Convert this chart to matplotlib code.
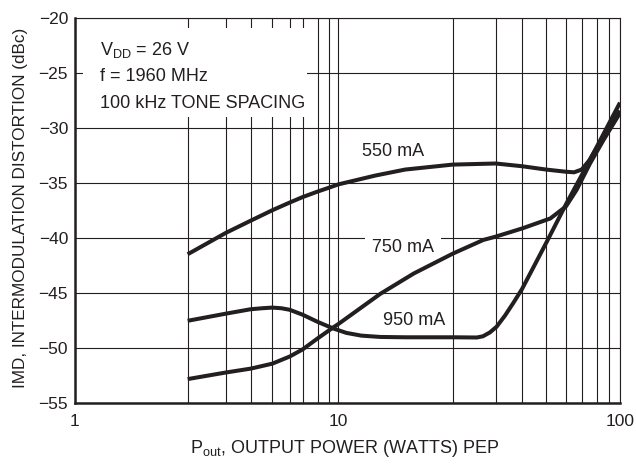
import numpy as np
import matplotlib
matplotlib.use("Agg")
import matplotlib.pyplot as plt
from matplotlib.patches import Rectangle

plt.rcParams['font.family'] = ['Liberation Sans', 'DejaVu Sans']
plt.rcParams['mathtext.default'] = 'regular'

# IMD vs output power, three quiescent currents
p_550 = [2, 3, 4, 5, 6, 7, 8, 9, 10, 12.5, 15, 20, 30, 40, 50, 60, 65, 70, 75, 80, 90, 100]
imd_550 = [-41.45, -39.5, -38.4, -37.45, -36.75, -36.25, -35.75, -35.4, -35.1, -34.3, -33.75,
           -33.3, -33.2, -33.45, -33.75, -33.95, -34.0, -33.75, -32.9, -31.8, -29.85, -28.4]

p_750 = [2, 3, 4, 5, 6, 7, 8, 9.45, 10, 12.9, 15.8, 20, 26.7, 30, 40, 52, 60, 66.6, 75.4,
         85.1, 96.8, 100]
imd_750 = [-52.8, -52.2, -51.85, -51.4, -50.75, -50.1, -49.1, -48.1, -47.8, -45.05, -43.2,
           -41.4, -40.15, -39.85, -39.1, -38.2, -37.1, -35.6, -33.2, -31.1, -29.1, -28.6]

p_950 = [2, 3, 4, 4.5, 5, 5.5, 6, 7, 8, 9.45, 10.5, 11.5, 12.9, 15, 20, 25.1, 26.6, 28.4,
         30.3, 33.2, 36.3, 39.9, 44.4, 50.3, 60.1, 71, 80, 90.6, 100]
imd_950 = [-47.5, -46.85, -46.45, -46.36, -46.3, -46.36, -46.5, -46.95, -47.6, -48.2, -48.6,
           -48.85, -48.97, -49.0, -49.0, -49.02, -48.91, -48.56, -48.04, -47.02, -45.88,
           -44.61, -42.65, -40.34, -36.88, -34.0, -31.7, -29.4, -27.67]

curve_labels = ['550 mA', '750 mA', '950 mA']
x_major = [1, 10, 100]
x_minor = [2, 3, 4, 5, 6, 7, 8, 9, 20, 30, 40, 50, 60, 70, 80, 90]

# the printed log paper is not a true log grid; calibrate the scale to it
grid_vals = np.array([1, 2, 3, 4, 5, 6, 7, 8, 9, 10, 20, 30, 40, 50, 60, 70, 80, 90, 100])
grid_px = np.array([75, 187.7, 226, 250.7, 272.3, 289.7, 302.7, 317.7, 329, 338.3,
                    452.7, 495.7, 522.3, 546, 566, 581.7, 596.7, 609.3, 620])
log_vals = np.log10(grid_vals)


def forward(x):
    x = np.clip(np.asarray(x, dtype=float), 1e-6, None)
    return np.interp(np.log10(x), log_vals, grid_px)


def inverse(p):
    return 10 ** np.interp(np.asarray(p, dtype=float), grid_px, log_vals)


ink = '#231f20'
fig = plt.figure(figsize=(6.36, 4.66), dpi=100)
ax = fig.add_axes([0.1179, 0.1346, 0.8569, 0.8261])
ax.set_xscale('function', functions=(forward, inverse))
ax.set_xlim(1, 100)
ax.set_ylim(-55, -20)

for px, py in [(p_550, imd_550), (p_750, imd_750), (p_950, imd_950)]:
    ax.plot(px, py, color=ink, lw=2.9, solid_capstyle='butt', solid_joinstyle='round', zorder=4)

ax.set_xticks(x_major)
ax.set_xticklabels([str(v) for v in x_major])
ax.set_xticks(x_minor, minor=True)
ax.set_xticklabels([], minor=True)
ax.set_yticks(np.arange(-55, -19, 5))
ax.grid(True, which='both', axis='x', color=ink, lw=0.8)
ax.grid(True, which='major', axis='y', color=ink, lw=0.8)
ax.tick_params(which='both', length=0, labelsize=12.5, colors=ink)
ax.tick_params(axis='x', pad=8)
ax.tick_params(axis='y', pad=5)

for side in ['left', 'bottom']:
    ax.spines[side].set_linewidth(1.8)
for side in ['top', 'right']:
    ax.spines[side].set_linewidth(0.8)
for s in ax.spines.values():
    s.set_color(ink)

ax.set_ylabel('IMD, INTERMODULATION DISTORTION (dBc)', fontsize=12.3, color=ink)
ax.yaxis.set_label_coords(-0.086, 0.507)
ax.set_xlabel('P$_{out}$, OUTPUT POWER (WATTS) PEP', fontsize=13, color=ink)
ax.xaxis.set_label_coords(0.495, -0.09)

# condition box in upper left
ax.add_patch(Rectangle((0.0147, 0.744), 0.411, 0.231, transform=ax.transAxes,
                       facecolor='white', edgecolor='none', zorder=2.5))
conds = ['V$_{DD}$ = 26 V', 'f = 1960 MHz', '100 kHz TONE SPACING']
for txt, yb in zip(conds, [0.9047, 0.837, 0.767]):
    ax.text(0.046, yb, txt, transform=ax.transAxes, fontsize=13, color=ink,
            va='baseline', ha='left', zorder=3)

ax.text(0.5835, 0.655, curve_labels[0], transform=ax.transAxes, fontsize=13, color=ink,
        ha='center', va='center', zorder=3)
ax.text(0.602, 0.405, curve_labels[1], transform=ax.transAxes, fontsize=13, color=ink,
        ha='center', va='center', zorder=3,
        bbox=dict(facecolor='white', edgecolor='none', pad=5))
ax.text(0.622, 0.214, curve_labels[2], transform=ax.transAxes, fontsize=13, color=ink,
        ha='center', va='center', zorder=3)

fig.savefig('out.png', dpi=100)
